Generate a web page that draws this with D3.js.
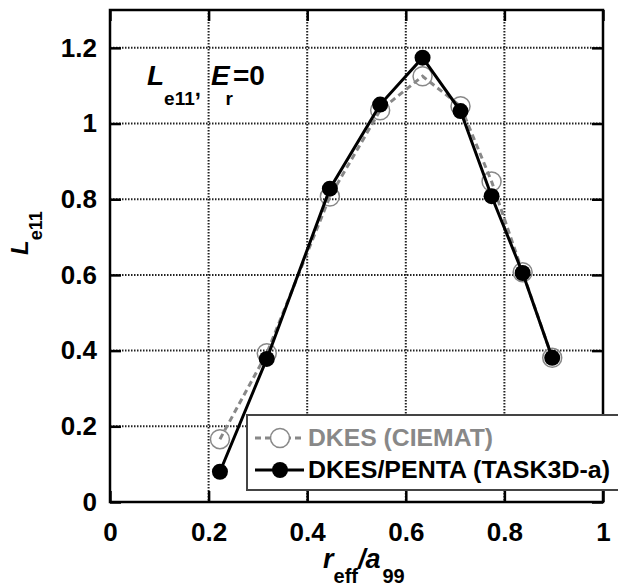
<!DOCTYPE html>
<html><head><meta charset="utf-8">
<script src="https://cdn.jsdelivr.net/npm/d3@7"></script>
<style>
html,body{margin:0;padding:0;background:#fff;}
svg{display:block;font-family:"Liberation Sans",Arial,sans-serif;}
</style></head>
<body>
<svg id="chart" width="618" height="587"></svg>
<script>
const rho = [0.223, 0.318, 0.446, 0.548, 0.634, 0.711, 0.774, 0.837, 0.897];
const dkesCiemat = [0.166, 0.393, 0.807, 1.035, 1.125, 1.046, 0.847, 0.607, 0.381];
const dkesPenta = [0.080, 0.378, 0.828, 1.050, 1.174, 1.033, 0.808, 0.605, 0.381];
const xTicks = [0, 0.2, 0.4, 0.6, 0.8, 1];
const yTicks = [0, 0.2, 0.4, 0.6, 0.8, 1, 1.2];
const seriesNames = ["DKES (CIEMAT)", "DKES/PENTA (TASK3D-a)"];

const svg = d3.select("#chart");
const L = 110, R = 603, T = 10, B = 502;
const x = d3.scaleLinear().domain([0, 1]).range([L, R]);
const y = d3.scaleLinear().domain([0, 1.3]).range([B, T]);
const fmt = d => d === 0 ? "0" : (d === 1 ? "1" : String(d));

// grid
const grid = svg.append("g");
grid.selectAll("line.gx").data(xTicks.filter(d => d > 0 && d < 1)).enter().append("line")
  .attr("x1", d => x(d)).attr("x2", d => x(d)).attr("y1", T).attr("y2", B)
  .attr("stroke", "#222").attr("stroke-width", 2).attr("stroke-dasharray", "1.5,1.5");
grid.selectAll("line.gy").data(yTicks.filter(d => d > 0)).enter().append("line")
  .attr("y1", d => y(d)).attr("y2", d => y(d)).attr("x1", L).attr("x2", R)
  .attr("stroke", "#222").attr("stroke-width", 2).attr("stroke-dasharray", "1.5,1.5");

// axes with inward ticks
const tl = 11;
const axB = svg.append("g").attr("transform", `translate(0,${B})`)
  .call(d3.axisBottom(x).tickValues(xTicks).tickFormat(fmt).tickSizeInner(-tl).tickSizeOuter(0).tickPadding(21));
const axT = svg.append("g").attr("transform", `translate(0,${T})`)
  .call(d3.axisTop(x).tickValues(xTicks).tickFormat("").tickSizeInner(-tl).tickSizeOuter(0));
const axL = svg.append("g").attr("transform", `translate(${L},0)`)
  .call(d3.axisLeft(y).tickValues(yTicks).tickFormat(fmt).tickSizeInner(-tl).tickSizeOuter(0).tickPadding(13));
const axR = svg.append("g").attr("transform", `translate(${R},0)`)
  .call(d3.axisRight(y).tickValues(yTicks).tickFormat("").tickSizeInner(-tl).tickSizeOuter(0));
[axB, axT, axL, axR].forEach(a => {
  a.select(".domain").remove();
  a.selectAll(".tick line").attr("stroke", "#000").attr("stroke-width", 2.5);
  a.selectAll(".tick text").attr("font-size", 26).attr("font-weight", "bold").attr("fill", "#000")
    .attr("font-family", "'Liberation Sans',Arial,sans-serif");
});

// frame
svg.append("rect").attr("x", L).attr("y", T).attr("width", R - L).attr("height", B - T)
  .attr("fill", "none").attr("stroke", "#000").attr("stroke-width", 2.5);

const ciemat = rho.map((r, i) => [r, dkesCiemat[i]]);
const penta = rho.map((r, i) => [r, dkesPenta[i]]);
const line = d3.line().x(d => x(d[0])).y(d => y(d[1]));

svg.append("path").datum(ciemat).attr("d", line).attr("fill", "none")
  .attr("stroke", "#888").attr("stroke-width", 3).attr("stroke-dasharray", "6,4");
svg.append("g").selectAll("circle").data(ciemat).enter().append("circle")
  .attr("cx", d => x(d[0])).attr("cy", d => y(d[1])).attr("r", 9.5)
  .attr("fill", "none").attr("stroke", "#888").attr("stroke-width", 1.5);

svg.append("path").datum(penta).attr("d", line).attr("fill", "none")
  .attr("stroke", "#000").attr("stroke-width", 3);
svg.append("g").selectAll("circle").data(penta).enter().append("circle")
  .attr("cx", d => x(d[0])).attr("cy", d => y(d[1])).attr("r", 8)
  .attr("fill", "#000");

// legend
const lg = svg.append("g");
lg.append("rect").attr("x", 247).attr("y", 415).attr("width", 400).attr("height", 75)
  .attr("fill", "#fff").attr("stroke", "#444").attr("stroke-width", 2);
const rows = [
  {name: seriesNames[0], y: 438, color: "#888", dash: "6,4", open: true, len: 185},
  {name: seriesNames[1], y: 470, color: "#000", dash: null, open: false, len: 302}
];
rows.forEach(r => {
  lg.append("line").attr("x1", 255).attr("x2", 304).attr("y1", r.y).attr("y2", r.y)
    .attr("stroke", r.color).attr("stroke-width", 3).attr("stroke-dasharray", r.dash);
  if (r.open) {
    lg.append("circle").attr("cx", 280).attr("cy", r.y).attr("r", 9.5)
      .attr("fill", "#fff").attr("stroke", "#888").attr("stroke-width", 1.5);
  } else {
    lg.append("circle").attr("cx", 280).attr("cy", r.y).attr("r", 8).attr("fill", "#000");
  }
  lg.append("text").attr("x", 308).attr("y", r.y + 8).attr("font-size", 23).attr("font-weight", "bold")
    .attr("textLength", r.len).attr("lengthAdjust", "spacingAndGlyphs")
    .attr("fill", r.color).text(r.name);
});

// annotation
const ann = svg.append("text").attr("x", 147).attr("y", 85).attr("font-weight", "bold").attr("font-size", 28);
ann.append("tspan").attr("font-style", "italic").text("L");
ann.append("tspan").attr("font-size", 19).attr("dy", 20).text("e11");
ann.append("tspan").attr("font-size", 22).attr("dy", -9).text(",");
ann.append("tspan").attr("dy", -11).attr("dx", 10).attr("font-style", "italic").text("E");
ann.append("tspan").attr("font-size", 19).attr("dx", -4).attr("dy", 20).text("r");
ann.append("tspan").attr("dy", -20).text("=0");

// y label
const yl = svg.append("text").attr("transform", "translate(28,255) rotate(-90)")
  .attr("font-weight", "bold").attr("font-size", 24);
yl.append("tspan").attr("font-style", "italic").text("L");
yl.append("tspan").attr("font-size", 18).attr("dy", 14).text("e11");

// x label
const xl = svg.append("text").attr("x", 323).attr("y", 568).attr("font-weight", "bold").attr("font-size", 27);
xl.append("tspan").attr("font-style", "italic").text("r");
xl.append("tspan").attr("font-size", 20).attr("dy", 15).text("eff");
xl.append("tspan").attr("dy", -15).attr("font-style", "italic").text("/a");
xl.append("tspan").attr("font-size", 20).attr("dy", 15).attr("dx", 2).text("99");
</script>
</body></html>
